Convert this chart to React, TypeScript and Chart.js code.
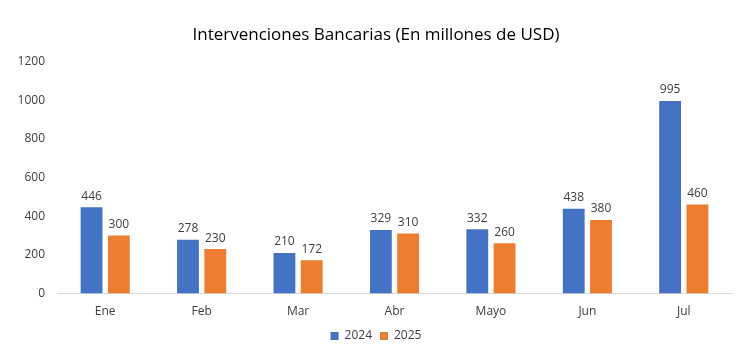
import React, { useEffect, useRef } from "react";
import { Chart, registerables } from "chart.js";

Chart.register(...registerables);

const categories = ["Ene", "Feb", "Mar", "Abr", "Mayo", "Jun", "Jul"];
const series2024 = [446, 278, 210, 329, 332, 438, 995];
const series2025 = [300, 230, 172, 310, 260, 380, 460];
const yTicks = [0, 200, 400, 600, 800, 1000, 1200];
const titleText = "Intervenciones Bancarias (En millones de USD)";

const FONT = "'Open Sans', 'Noto Sans', sans-serif";

const dataLabels = {
  id: "dataLabels",
  afterDatasetsDraw(chart: any) {
    const ctx = chart.ctx;
    ctx.save();
    ctx.font = `12px ${FONT}`;
    ctx.fillStyle = "#404040";
    ctx.textAlign = "center";
    ctx.textBaseline = "bottom";
    chart.data.datasets.forEach((ds: any, i: number) => {
      const meta = chart.getDatasetMeta(i);
      meta.data.forEach((bar: any, j: number) => {
        ctx.fillText(String(ds.data[j]), bar.x, bar.y - 5);
      });
    });
    ctx.restore();
  },
};

export default function App() {
  const ref = useRef<HTMLCanvasElement>(null);
  useEffect(() => {
    document.body.style.margin = "0";
    const chart = new Chart(ref.current!, {
      type: "bar",
      data: {
        labels: categories,
        datasets: [
          { label: "2024", data: series2024, backgroundColor: "#4472C4", categoryPercentage: 0.566, barPercentage: 0.8 },
          { label: "2025", data: series2025, backgroundColor: "#ED7D31", categoryPercentage: 0.566, barPercentage: 0.8 },
        ],
      },
      options: {
        animation: false,
        responsive: false,
        layout: { padding: { top: 25, right: 0, left: 0, bottom: 5 } },
        plugins: {
          title: {
            display: true,
            text: titleText,
            color: "#000000",
            font: { family: FONT, size: 17, weight: "normal" },
            padding: { top: 0, bottom: 16 },
          },
          legend: {
            position: "bottom",
            labels: {
              color: "#404040",
              font: { family: FONT, size: 12 },
              boxWidth: 8,
              boxHeight: 8,
              padding: 8,
            },
          },
          tooltip: { enabled: false },
        },
        scales: {
          x: {
            grid: { display: false },
            border: { display: true, color: "#d9d9d9" },
            ticks: { color: "#404040", font: { family: FONT, size: 12 }, padding: 3 },
          },
          y: {
            min: 0,
            max: 1200,
            afterFit(scale: any) {
              scale.width = 57;
            },
            afterBuildTicks(scale: any) {
              scale.ticks = yTicks.map((v) => ({ value: v }));
            },
            grid: { display: false },
            border: { display: false },
            ticks: {
              color: "#404040",
              font: { family: FONT, size: 12 },
              padding: 4,
              callback: (v: any) => String(v),
            },
          },
          yRight: {
            position: "right",
            min: 0,
            max: 1200,
            afterFit(scale: any) {
              scale.width = 20;
            },
            grid: { display: false },
            border: { display: false },
            ticks: { display: false },
          },
        },
      },
      plugins: [dataLabels],
    });
    return () => chart.destroy();
  }, []);
  return (
    <div style={{ width: 752, height: 357 }}>
      <canvas ref={ref} width={752} height={357} style={{ display: "block" }} />
    </div>
  );
}
